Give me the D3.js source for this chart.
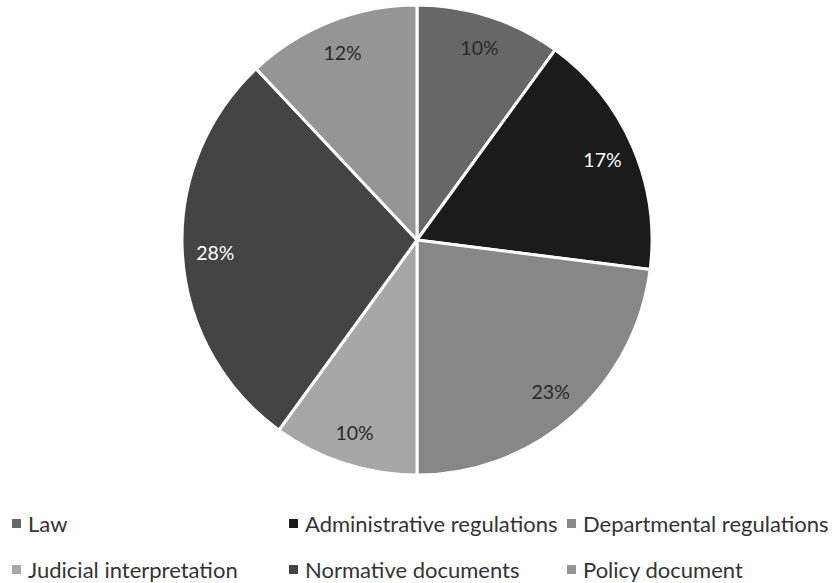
<!DOCTYPE html>
<html>
<head>
<meta charset="utf-8">
<script src="https://cdn.jsdelivr.net/npm/d3@7"></script>
<style>
  html, body { margin: 0; padding: 0; background: #fff; }
  svg { display: block; }
</style>
</head>
<body>
<svg id="chart" width="836" height="583"></svg>
<script>
// Share of policy/legal document types
const categories = ["Law", "Administrative regulations", "Departmental regulations",
                    "Judicial interpretation", "Normative documents", "Policy document"];
const shares = [10, 17, 23, 10, 28, 12];
const sliceColors = ["#676767", "#1b1b1b", "#878787", "#a7a7a7", "#444444", "#959595"];
const labelColors = ["#2a2a2a", "#ffffff", "#2a2a2a", "#2a2a2a", "#ffffff", "#2a2a2a"];

const svg = d3.select("#chart");
const font = "Lato, 'Open Sans', sans-serif";

const cx = 417, cy = 240, R = 235;

const pie = d3.pie().sort(null).value(d => d.value);
const data = categories.map((c, i) => ({ name: c, value: shares[i], i }));
const arcs = pie(data);

const arc = d3.arc().innerRadius(0).outerRadius(R);
const labelArc = d3.arc().innerRadius(R * 0.86).outerRadius(R * 0.86);

const g = svg.append("g").attr("transform", `translate(${cx},${cy})`);

g.selectAll("path.slice")
  .data(arcs)
  .join("path")
  .attr("class", "slice")
  .attr("d", arc)
  .attr("fill", d => sliceColors[d.data.i])
  .attr("stroke", "#fff")
  .attr("stroke-width", 3)
  .attr("stroke-linejoin", "round");

g.selectAll("text.pct")
  .data(arcs)
  .join("text")
  .attr("class", "pct")
  .attr("transform", d => `translate(${labelArc.centroid(d)})`)
  .attr("text-anchor", "middle")
  .attr("dominant-baseline", "central")
  .attr("font-family", font)
  .attr("font-size", 19.5)
  .attr("fill", d => labelColors[d.data.i])
  .text(d => d.data.value + "%");

// Legend: two rows of three entries
const legendCols = [12, 289, 567];
const legendRows = [523, 569];
const legend = svg.append("g");
data.forEach((d, k) => {
  const x = legendCols[k % 3], y = legendRows[Math.floor(k / 3)];
  const item = legend.append("g").attr("transform", `translate(${x},${y})`);
  item.append("rect")
    .attr("x", 0).attr("y", -4)
    .attr("width", 9).attr("height", 9)
    .attr("fill", sliceColors[d.i]);
  item.append("text")
    .attr("x", 16).attr("y", 0)
    .attr("dominant-baseline", "central")
    .attr("font-family", font)
    .attr("font-size", 22)
    .attr("fill", "#333")
    .text(d.name);
});
</script>
</body>
</html>
